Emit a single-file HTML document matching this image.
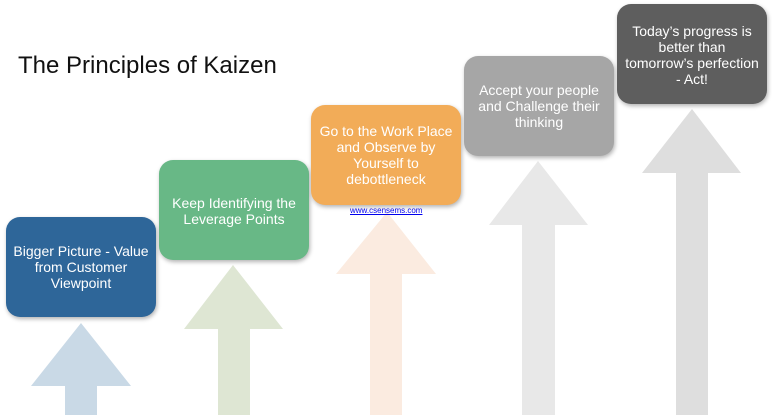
<!DOCTYPE html>
<html><head><style>
body{margin:0;width:772px;height:415px;background:#fff;position:relative;overflow:hidden;font-family:"Liberation Sans",Arial,sans-serif}
.b{position:absolute;width:150px;height:100px;border-radius:14px;color:#fff;font-size:14px;line-height:16px;text-align:center;box-shadow:1px 2px 4px rgba(0,0,0,0.3);box-sizing:border-box;padding:0 2px;white-space:nowrap}
h1{position:absolute;left:18px;top:52px;margin:0;font-weight:normal;font-size:24px;color:#111}
a{position:absolute;left:350px;top:206px;font-size:8px;color:#0000ee;text-decoration:underline}
</style></head><body>
<svg width="772" height="415" style="position:absolute;left:0;top:0">
<polygon points="81,323 131,386 97,386 97,415 65,415 65,386 31,386" fill="#c9d9e6"/>
<polygon points="233,265 283,329 250,329 250,415 218,415 218,329 184,329" fill="#dee6d3"/>
<polygon points="387,212 436,274 402,274 402,415 370,415 370,274 336,274" fill="#fbebe0"/>
<polygon points="538,161 588,225 555,225 555,415 522,415 522,225 489,225" fill="#e8e8e8"/>
<polygon points="692,109 741,173 708,173 708,415 676,415 676,173 642,173" fill="#dedede"/>
</svg>
<h1>The Principles of Kaizen</h1>
<div class="b" style="left:6px;top:217px;background:#2e6699;padding-top:26px">Bigger Picture - Value<br>from Customer<br>Viewpoint</div>
<div class="b" style="left:159px;top:160px;background:#68b886;padding-top:35px">Keep Identifying the<br>Leverage Points</div>
<div class="b" style="left:311px;top:105px;background:#f2ac58;padding-top:18px">Go to the Work Place<br>and Observe by<br>Yourself to<br>debottleneck</div>
<a>www.csensems.com</a>
<div class="b" style="left:464px;top:56px;background:#a6a6a6;padding-top:26px">Accept your people<br>and Challenge their<br>thinking</div>
<div class="b" style="left:617px;top:4px;background:#5e5e5e;padding-top:19px">Today’s progress is<br>better than<br>tomorrow’s perfection<br>- Act!</div>
</body></html>
